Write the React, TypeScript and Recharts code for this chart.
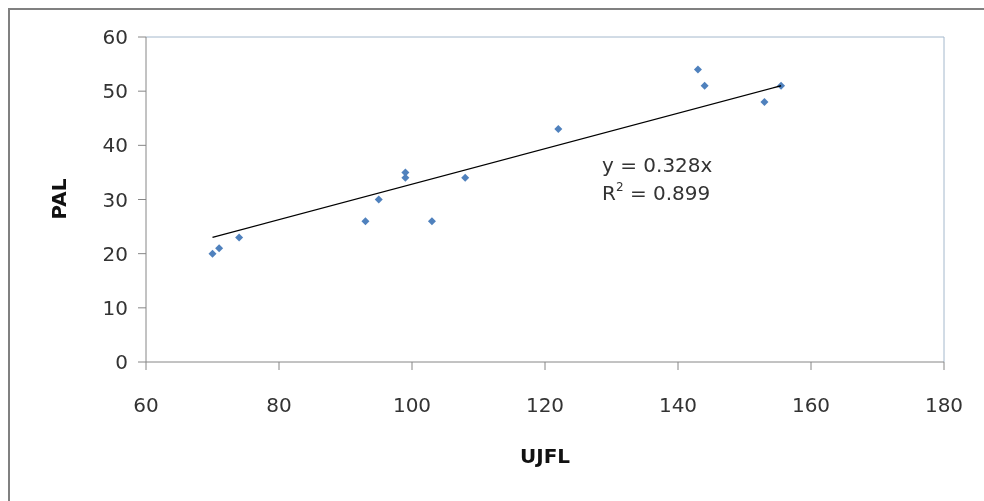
import React from 'react';
import { ScatterChart, Scatter, XAxis, YAxis, ReferenceLine } from 'recharts';

const ujfl = [70, 71, 74, 93, 95, 99, 99, 103, 108, 122, 143, 144, 153, 155.5];
const pal = [20, 21, 23, 26, 30, 35, 34, 26, 34, 43, 54, 51, 48, 51];

// trendline end points (y = 0.328x)
const trendX = [70, 155.5];
const trendY = [23.0, 51.0];

const xTicks = [60, 80, 100, 120, 140, 160, 180];
const yTicks = [0, 10, 20, 30, 40, 50, 60];

const points = ujfl.map((x, i) => ({ x, y: pal[i] }));
const trend = trendX.map((x, i) => ({ x, y: trendY[i] }));

const font = '"DejaVu Sans", sans-serif';
const axisGrey = '#868686';

const Diamond = (props: any) => {
  const { cx, cy } = props;
  const r = 4;
  return (
    <polygon
      points={`${cx},${cy - r} ${cx + r},${cy} ${cx},${cy + r} ${cx - r},${cy}`}
      fill="#4F81BD"
    />
  );
};

const NoDot = () => <g />;

export default function App() {
  return (
    <div style={{ position: 'relative', width: 968, height: 485, fontFamily: font }}>
      {/* outer chart frame, runs off the right and bottom of the window */}
      <div
        style={{
          position: 'fixed',
          left: 8,
          top: 8,
          width: 1020,
          height: 540,
          border: '2px solid #808080',
          pointerEvents: 'none',
        }}
      />
      <div style={{ position: 'absolute', left: 2, top: 2 }}>
        <ScatterChart width={966} height={483} margin={{ top: 27, right: 32, bottom: 71, left: 76 }}>
          <XAxis
            type="number"
            dataKey="x"
            domain={[60, 180]}
            ticks={xTicks}
            height={60}
            stroke={axisGrey}
            tickSize={8}
            tickMargin={28}
            tick={{ fill: '#333', fontSize: 20, fontFamily: font }}
          />
          <YAxis
            type="number"
            dataKey="y"
            domain={[0, 60]}
            ticks={yTicks}
            width={60}
            stroke={axisGrey}
            tickSize={8}
            tickMargin={10}
            tick={{ fill: '#333', fontSize: 20, fontFamily: font }}
          />
          <ReferenceLine y={60} stroke="#a4b8cc" />
          <ReferenceLine x={180} stroke="#a4b8cc" />
          <Scatter data={points} shape={Diamond} isAnimationActive={false} />
          <Scatter
            data={trend}
            line={{ stroke: '#000', strokeWidth: 1.3 }}
            shape={NoDot}
            isAnimationActive={false}
          />
        </ScatterChart>
        <div
          style={{
            position: 'absolute',
            left: 49,
            top: 189,
            transform: 'translate(-50%, -50%) rotate(-90deg)',
            fontWeight: 'bold',
            fontSize: 20,
            color: '#111',
            whiteSpace: 'nowrap',
          }}
        >
          PAL
        </div>
        <div
          style={{
            position: 'absolute',
            left: 535,
            top: 436,
            transform: 'translateX(-50%)',
            fontWeight: 'bold',
            fontSize: 20,
            lineHeight: '20px',
            color: '#111',
          }}
        >
          UJFL
        </div>
        <div
          style={{
            position: 'absolute',
            left: 592,
            top: 141,
            fontSize: 20,
            lineHeight: '28px',
            color: '#333',
            whiteSpace: 'nowrap',
          }}
        >
          <div>y = 0.328x</div>
          <div>
            R<sup style={{ fontSize: 12, verticalAlign: 'top', lineHeight: '16px' }}>2</sup> = 0.899
          </div>
        </div>
      </div>
    </div>
  );
}
